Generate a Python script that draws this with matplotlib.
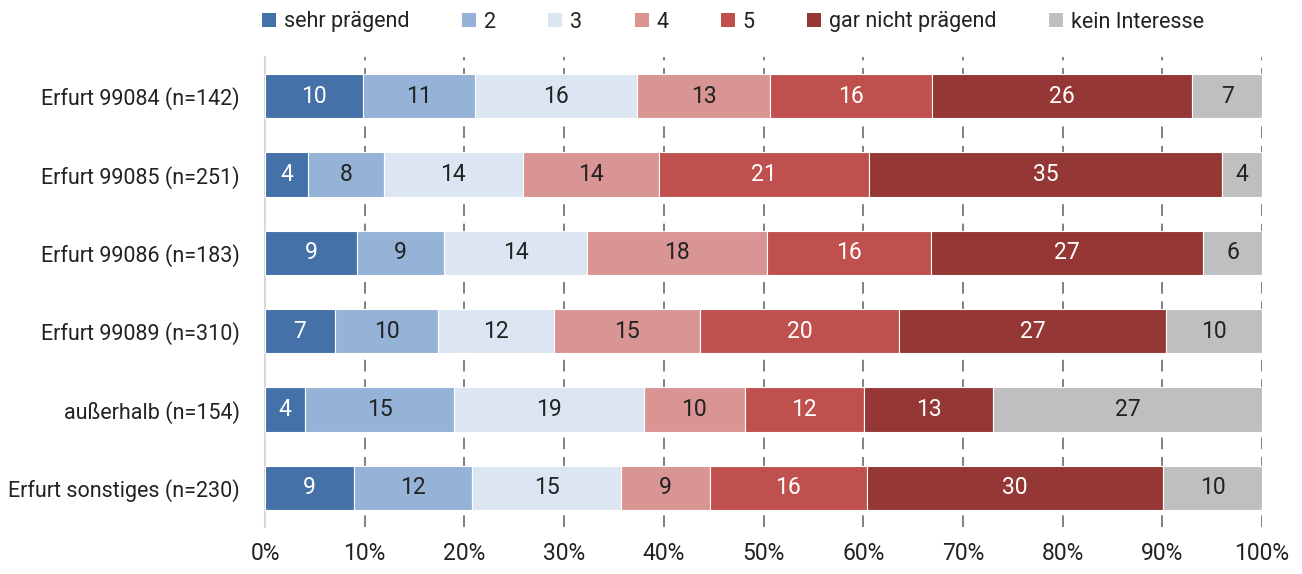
import matplotlib
matplotlib.use("Agg")
import matplotlib.pyplot as plt
from matplotlib import font_manager
from matplotlib.patches import Patch

# narrow font if available, otherwise something close
installed = {f.name for f in font_manager.fontManager.ttflist}
FONT = next((f for f in ["Liberation Sans Narrow", "Roboto", "Lato"] if f in installed), "DejaVu Sans")
plt.rcParams["font.family"] = [FONT, "DejaVu Sans"]
FS = 15.5
FS_BAR = 16.5
INK = "#222222"

categories = [
    "Erfurt 99084 (n=142)",
    "Erfurt 99085 (n=251)",
    "Erfurt 99086 (n=183)",
    "Erfurt 99089 (n=310)",
    "außerhalb (n=154)",
    "Erfurt sonstiges (n=230)",
]
levels = ["sehr prägend", "2", "3", "4", "5", "gar nicht prägend", "kein Interesse"]

# shares in percent per answer level, one value per category
sehr_praegend = [9.8, 4.3, 9.2, 7.0, 4.0, 8.9]
stufe_2 = [11.3, 7.6, 8.8, 10.4, 15.0, 11.9]
stufe_3 = [16.2, 14.0, 14.3, 11.6, 19.0, 14.9]
stufe_4 = [13.4, 13.6, 18.1, 14.6, 10.1, 8.9]
stufe_5 = [16.2, 21.1, 16.4, 20.0, 12.0, 15.8]
gar_nicht = [26.1, 35.4, 27.3, 26.8, 12.9, 29.7]
kein_interesse = [7.0, 4.0, 6.0, 9.6, 27.0, 9.9]

series = [sehr_praegend, stufe_2, stufe_3, stufe_4, stufe_5, gar_nicht, kein_interesse]
colors = ["#4472A8", "#95B3D7", "#DCE6F2", "#D99594", "#C0504D", "#953735", "#BFBFBF"]
text_colors = ["white", INK, INK, INK, "white", "white", INK]

fig = plt.figure(figsize=(13.02, 5.74), dpi=100)
ax = fig.add_axes([265 / 1302, 47 / 574, 997 / 1302, 470 / 574])

y = list(range(len(categories)))
left = [0.0] * len(categories)
for vals, col, tcol in zip(series, colors, text_colors):
    bars = ax.barh(y, vals, left=left, height=0.565, color=col,
                   edgecolor="white", linewidth=0.8, zorder=3)
    ax.bar_label(bars, labels=[f"{v:.0f}" for v in vals], label_type="center",
                 color=tcol, fontsize=FS_BAR)
    left = [a + b for a, b in zip(left, vals)]

ax.set_xlim(0, 100)
ax.set_ylim(len(categories) - 0.5, -0.5)
ax.set_yticks(y)
ax.set_yticklabels(categories, fontsize=FS, color=INK)
ax.set_xticks(range(0, 101, 10))
ax.set_xticklabels([f"{t}%" for t in range(0, 101, 10)], fontsize=FS_BAR, color=INK)
ax.tick_params(length=0, pad=11)
ax.tick_params(axis="y", pad=18)

for t in range(10, 101, 10):
    ax.axvline(t, color="#808080", linestyle=(0, (6, 4)), linewidth=1.4, zorder=1)

for side in ["top", "right", "bottom"]:
    ax.spines[side].set_visible(False)
ax.spines["left"].set_color("#D9D9D9")
ax.spines["left"].set_linewidth(1.5)

handles = [Patch(facecolor=c, edgecolor="none") for c in colors]
fig.legend(handles, levels, loc="center left", bbox_to_anchor=(243 / 1302, 1 - 22 / 574),
           ncol=7, frameon=False, fontsize=FS, handlelength=0.65, handleheight=0.65,
           handletextpad=0.35, columnspacing=2.45, labelcolor=INK)

fig.savefig("out.png", dpi=100)
